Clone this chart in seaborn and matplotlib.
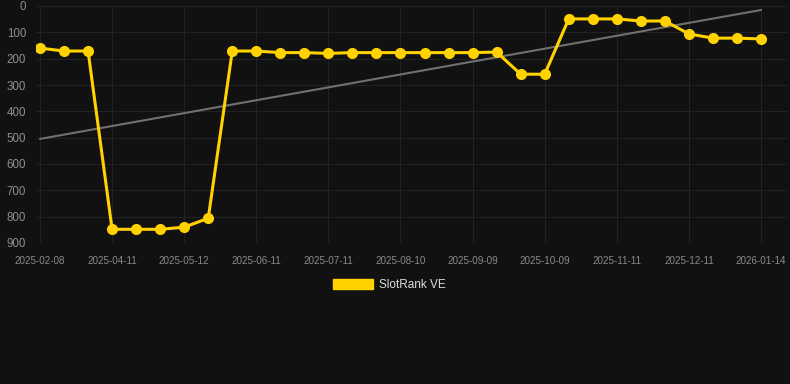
import numpy as np
import pandas as pd
import matplotlib
matplotlib.use('Agg')
import matplotlib.pyplot as plt
from matplotlib.patches import Patch
import seaborn as sns

# Rank history (lower number = better rank)
dates = ['2025-02-08', '2025-02-28', '2025-03-21', '2025-04-11', '2025-04-21', '2025-05-01',
         '2025-05-12', '2025-05-22', '2025-06-01', '2025-06-11', '2025-06-21', '2025-07-01',
         '2025-07-11', '2025-07-21', '2025-07-31', '2025-08-10', '2025-08-20', '2025-08-30',
         '2025-09-09', '2025-09-19', '2025-09-29', '2025-10-09', '2025-10-20', '2025-10-31',
         '2025-11-11', '2025-11-21', '2025-12-01', '2025-12-11', '2025-12-22', '2026-01-03',
         '2026-01-14']
ranks = [160, 171, 171, 848, 848, 848, 840, 806, 171, 171, 177, 177, 180, 177, 177, 177,
         177, 177, 177, 175, 259, 259, 49, 49, 49, 57, 57, 106, 122, 122, 125]
series_name = 'SlotRank VE'
y_ticks = [0, 100, 200, 300, 400, 500, 600, 700, 800, 900]

bg = '#111111'
grid_col = '#222222'
gold = '#FFD200'

sns.set_style('dark')
plt.rcParams['font.family'] = ['Liberation Sans', 'DejaVu Sans']

df = pd.DataFrame({'idx': np.arange(len(dates)), 'date': dates, 'rank': ranks})

fig = plt.figure(figsize=(7.9, 3.84), dpi=100, facecolor=bg)
ax = fig.add_axes([36 / 790, 1 - 243 / 384, (788 - 36) / 790, (243 - 6) / 384])
ax.set_facecolor(bg)

# trend line (least squares over the index)
coef = np.polyfit(df['idx'], df['rank'], 1)
ax.plot(df['idx'], np.polyval(coef, df['idx']), color='#707070', lw=1.5, zorder=2)

sns.lineplot(data=df, x='idx', y='rank', ax=ax, color=gold, lw=2.2, marker='o',
             markersize=8, markeredgewidth=0, zorder=3)

ax.set_xlim(-4 / 24.03, 30 + 27 / 24.03)
ax.set_ylim(900, 0)
ax.set_yticks(y_ticks)
ax.set_xticks(df['idx'][::3])
ax.set_xticklabels(df['date'][::3])
ax.tick_params(axis='x', colors=grid_col, labelcolor='#8a8a8a', labelsize=7.1, length=5, pad=4)
ax.tick_params(axis='y', colors=grid_col, labelcolor='#8f8f8f', labelsize=8.3, length=3, pad=4)
ax.grid(True, color=grid_col, lw=0.8)
ax.set_xlabel('')
ax.set_ylabel('')
for s in ax.spines.values():
    s.set_visible(False)

handle = Patch(facecolor=gold, edgecolor=gold)
fig.legend([handle], [series_name], loc='center', bbox_to_anchor=(0.5 - 6 / 790, 1 - 285 / 384),
           frameon=False, fontsize=8.5, handlelength=3.4, handleheight=0.95,
           handletextpad=0.5, labelcolor='#dddddd')

fig.savefig('out.png', dpi=100, facecolor=bg)
